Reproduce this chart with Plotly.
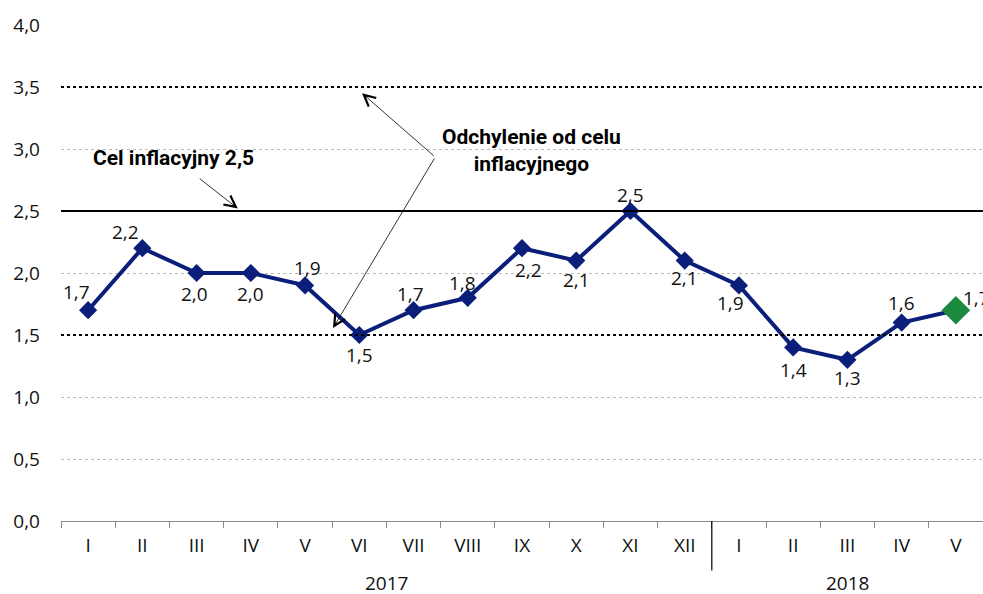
import plotly.graph_objects as go

months = ["I", "II", "III", "IV", "V", "VI", "VII", "VIII", "IX", "X", "XI", "XII",
          "I", "II", "III", "IV", "V"]
years = ["2017", "2018"]
year_counts = [12, 5]
values = [1.7, 2.2, 2.0, 2.0, 1.9, 1.5, 1.7, 1.8, 2.2, 2.1, 2.5, 2.1,
          1.9, 1.4, 1.3, 1.6, 1.7]
# pixel offsets of each value label from its point (style only)
label_dx = [-12, -17, -2, 0, 2, 0, -3, -5, 6, 0, 0, 0, -8, 0, 0, 0, 5]
label_dy = [18, 16, -21, -21, 17, -20, 16, 15, -22, -19, 16, -17, -18, -23, -18, 20, 12]
target = 2.5
band_low = 1.5
band_high = 3.5
yticks = [0, 0.5, 1.0, 1.5, 2.0, 2.5, 3.0, 3.5, 4.0]

FONT = "Open Sans"
BOLD = "Roboto"
NAVY = "#0b1f7a"
GREEN = "#1b8a3e"
FS = 19

x = list(range(len(values)))
texts = [f"{v:.1f}".replace(".", ",") for v in values]
mcolors = [NAVY] * (len(values) - 1) + [GREEN]
msizes = [14] * (len(values) - 1) + [22]

fig = go.Figure()
fig.add_trace(go.Scatter(
    x=x, y=values, mode="lines+markers",
    line=dict(color=NAVY, width=4),
    marker=dict(symbol="diamond", size=msizes, color=mcolors, opacity=1, line=dict(width=0)),
    cliponaxis=False, showlegend=False, hoverinfo="skip"))

shapes = []
for yv, dash, w in [(band_low, "dot", 2.2), (band_high, "dot", 2.2), (target, "solid", 2.2)]:
    shapes.append(dict(type="line", xref="paper", yref="y", x0=0, x1=1, y0=yv, y1=yv,
                       line=dict(color="black", width=w, dash=dash)))
shapes.append(dict(type="line", xref="x", yref="paper", x0=year_counts[0] - 0.5,
                   x1=year_counts[0] - 0.5, y0=0, y1=-0.1, line=dict(color="black", width=1.2)))

ann = []
for i, (xi, v, t) in enumerate(zip(x, values, texts)):
    last = i == len(values) - 1
    ann.append(dict(x=xi, y=v, xref="x", yref="y", text=t, showarrow=False,
                    xanchor="left" if last else "center", yanchor="middle",
                    xshift=label_dx[i], yshift=label_dy[i],
                    font=dict(family=FONT, size=FS, color="#111111")))

start = 0
for yr, n in zip(years, year_counts):
    ann.append(dict(x=start + (n - 1) / 2, y=-0.125, xref="x", yref="paper", text=yr,
                    showarrow=False, font=dict(family=FONT, size=FS, color="#111111"),
                    yanchor="middle"))
    start += n

ann.append(dict(x=1.58, y=2.93, xref="x", yref="y", text="<b>Cel inflacyjny 2,5</b>",
                showarrow=False, font=dict(family=BOLD, size=21, color="black")))
ann.append(dict(x=2.76, y=2.52, ax=2.03, ay=2.77, xref="x", yref="y", axref="x", ayref="y",
                text="", showarrow=True, arrowhead=5, arrowsize=2.8, arrowwidth=0.8,
                arrowcolor="black"))
ann.append(dict(x=8.18, y=2.985, xref="x", yref="y",
                text="<b>Odchylenie od celu</b><br><b>inflacyjnego</b>",
                showarrow=False, font=dict(family=BOLD, size=21, color="black")))
ann.append(dict(x=5.05, y=3.45, ax=6.40, ay=2.935, xref="x", yref="y", axref="x", ayref="y",
                text="", showarrow=True, arrowhead=5, arrowsize=2.8, arrowwidth=0.8,
                arrowcolor="black"))
ann.append(dict(x=4.515, y=1.556, ax=6.40, ay=2.935, xref="x", yref="y", axref="x", ayref="y",
                text="", showarrow=True, arrowhead=5, arrowsize=2.8, arrowwidth=0.8,
                arrowcolor="black"))

fig.update_layout(
    width=983, height=594,
    margin=dict(l=61, r=0, t=25, b=73),
    plot_bgcolor="white", paper_bgcolor="white",
    separators=", ",
    shapes=shapes, annotations=ann,
    font=dict(family=FONT, size=FS, color="#111111"),
    xaxis=dict(range=[-0.5, len(values) - 0.5], tickmode="array", tickvals=x, ticktext=months,
               ticks="", showgrid=False, zeroline=False, showline=True, linecolor="#888888",
               linewidth=1, tickfont=dict(family=FONT, size=FS, color="#111111"),
               ticklabelstandoff=7,
               minor=dict(tickvals=[i - 0.5 for i in range(len(values) + 1)], ticks="outside",
                          ticklen=6, tickcolor="#888888", tickwidth=1, showgrid=False)),
    yaxis=dict(range=[0, 4], tickmode="array", tickvals=yticks, tickformat=".1f",
               showgrid=True, gridcolor="#bbbbbb", griddash="dot", gridwidth=1,
               zeroline=False, showline=False, ticks="",
               tickfont=dict(family=FONT, size=FS, color="#111111"),
               ticklabelstandoff=20),
)

fig.write_html("out.html", config={"displayModeBar": False},
               post_script="document.body.style.margin='0';document.body.style.overflow='hidden';")
